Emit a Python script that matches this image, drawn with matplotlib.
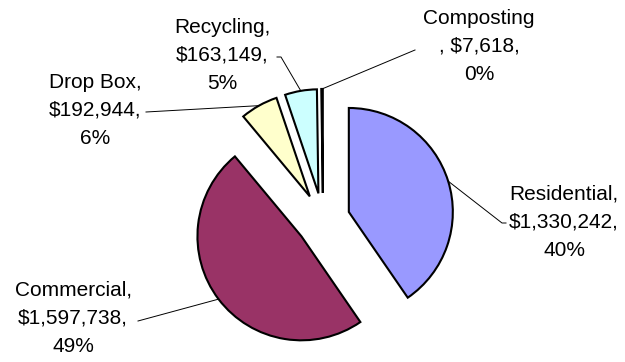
import math
import matplotlib
matplotlib.use("Agg")
import matplotlib.pyplot as plt

# Data
names = ["Residential", "Commercial", "Drop Box", "Recycling", "Composting"]
values = [1330242, 1597738, 192944, 163149, 7618]
colors = ["#9999FF", "#993366", "#FFFFCC", "#CCFFFF", "#660066"]

W, H = 625, 362
CX, CY, R = 323, 220, 104  # pie centre and radius in pixels


def px(x, y):
    # pixel position -> data units (radius 1, centre 0,0)
    return (x - CX) / R, (CY - y) / R


total = sum(values)
labels = []
for n, v in zip(names, values):
    pct = round(v / total * 100)
    if n == "Composting":
        labels.append(f"{n}\n, ${v:,},\n{pct}%")
    else:
        labels.append(f"{n},\n${v:,},\n{pct}%")

# label centres and leader line start points (pixels)
label_pos = [(564, 222), (73, 318), (95, 110), (222, 55), (479, 46)]
leader_start = [[(506, 223), (502, 223)],
                [(138, 321)],
                [(146, 112)],
                [(277, 57), (281, 57)],
                [(415, 50)]]

plt.rcParams["font.family"] = ["Liberation Sans", "DejaVu Sans"]
fig = plt.figure(figsize=(W / 100, H / 100), dpi=100)
ax = fig.add_axes([0, 0, 1, 1])

wedges, _ = ax.pie(values, colors=colors, startangle=90, counterclock=False,
                   explode=[0.26] * len(values), radius=1,
                   wedgeprops=dict(edgecolor="black", linewidth=1.5))

for w, lab, pos, start in zip(wedges, labels, label_pos, leader_start):
    tm = math.radians((w.theta1 + w.theta2) / 2)
    ex = w.center[0] + w.r * math.cos(tm)
    ey = w.center[1] + w.r * math.sin(tm)
    pts = [px(*p) for p in start] + [(ex, ey)]
    ax.plot([p[0] for p in pts], [p[1] for p in pts], color="black", lw=0.7)
    tx, ty = px(*pos)
    ax.text(tx, ty, lab, ha="center", va="center", fontsize=15,
            linespacing=1.6, multialignment="center")

x0, y0 = px(0, H)
x1, y1 = px(W, 0)
ax.set_xlim(x0, x1)
ax.set_ylim(y0, y1)
ax.set_aspect("equal")
ax.axis("off")

plt.savefig("out.png", dpi=100, facecolor="white")
plt.close()
